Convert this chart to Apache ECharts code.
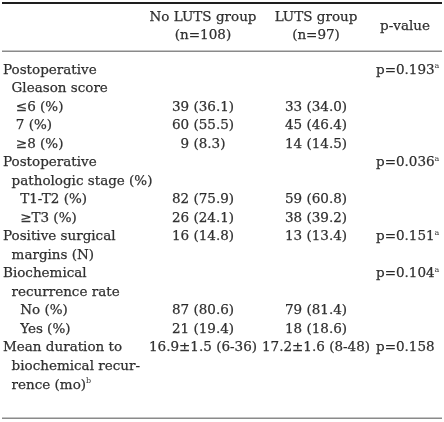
<!DOCTYPE html>
<html>
<head>
<meta charset="utf-8">
<script src="https://cdn.jsdelivr.net/npm/echarts@6/dist/echarts.min.js"></script>
<style>html,body{margin:0;padding:0;background:#fff}#c{width:444px;height:422px}</style>
</head>
<body>
<div id="c"></div>
<script>
// ---- data ----
var headerCols = ['No LUTS group', 'LUTS group'];
var headerNs = ['(n=108)', '(n=97)'];
var headerP = 'p-value';
var rowLabels = [
  'Postoperative',
  '\u00a0\u00a0Gleason score',
  '\u00a0\u00a0\u00a0\u22646 (%)',
  '\u00a0\u00a0\u00a07 (%)',
  '\u00a0\u00a0\u00a0\u22658 (%)',
  'Postoperative',
  '\u00a0\u00a0pathologic stage (%)',
  '\u00a0\u00a0\u00a0\u00a0T1-T2 (%)',
  '\u00a0\u00a0\u00a0\u00a0\u2265T3 (%)',
  'Positive surgical',
  '\u00a0\u00a0margins (N)',
  'Biochemical',
  '\u00a0\u00a0recurrence rate',
  '\u00a0\u00a0\u00a0\u00a0No (%)',
  '\u00a0\u00a0\u00a0\u00a0Yes (%)',
  'Mean duration to',
  '\u00a0\u00a0biochemical recur-',
  '\u00a0\u00a0rence (mo)'
];
var rowLabelSup = {17: 'b'};
var noLutsVals = ['', '', '39 (36.1)', '60 (55.5)', '9 (8.3)', '', '', '82 (75.9)', '26 (24.1)', '16 (14.8)', '', '', '', '87 (80.6)', '21 (19.4)', '16.9\u00b11.5 (6-36)', '', ''];
var lutsVals = ['', '', '33 (34.0)', '45 (46.4)', '14 (14.5)', '', '', '59 (60.8)', '38 (39.2)', '13 (13.4)', '', '', '', '79 (81.4)', '18 (18.6)', '17.2\u00b11.6 (8-48)', '', ''];
var pVals = ['p=0.193', '', '', '', '', 'p=0.036', '', '', '', 'p=0.151', '', 'p=0.104', '', '', '', 'p=0.158', '', ''];
var pSup = ['a', '', '', '', '', 'a', '', '', '', 'a', '', 'a', '', '', '', '', '', ''];

// ---- layout ----
var W = 444, H = 422;
var FONT = 'DejaVu Serif';
var FS = 13.5;
var COLOR = '#000';
var colLabelX = 3, col1X = 203, col2X = 316, pX = 376, pHeadX = 405;
var rowH = 18.53, firstRowY = 70;
var nRows = rowLabels.length;
var rowIdx = rowLabels.map(function (_, i) { return String(i); });

var rich = {
  n: {fontFamily: FONT, fontSize: FS, color: COLOR, lineHeight: 16, textBorderColor: COLOR, textBorderWidth: 0.25},
  s: {fontFamily: FONT, fontSize: 8, color: COLOR, lineHeight: 9, verticalAlign: 'top'}
};
function fmtCell(text, sup) {
  var s = '{n|' + text + '}';
  if (sup) s += '{s|' + sup + '}';
  return s;
}

function bodySeries(x, texts, sups, pos) {
  var data = [];
  texts.forEach(function (t, i) {
    if (t) data.push({value: [x, String(i)], text: t, sup: sups ? sups[i] : ''});
  });
  return {
    type: 'scatter', xAxisIndex: 1, yAxisIndex: 1, symbolSize: 0, silent: true,
    data: data,
    label: {
      show: true, position: pos, distance: 0, color: COLOR,
      formatter: function (p) { return fmtCell(p.data.text, p.data.sup); },
      rich: rich
    }
  };
}

var labelSups = rowLabels.map(function (_, i) { return rowLabelSup[i] || ''; });

var chart = echarts.init(document.getElementById('c'), null, {renderer: 'canvas'});
chart.setOption({
  backgroundColor: '#fff',
  animation: false,
  grid: [
    {left: 0, right: 0, top: 8, height: 36},
    {left: 0, right: 0, top: firstRowY - rowH / 2, height: rowH * nRows}
  ],
  xAxis: [
    {gridIndex: 0, type: 'value', min: 0, max: W, show: false},
    {gridIndex: 1, type: 'value', min: 0, max: W, show: false}
  ],
  yAxis: [
    {gridIndex: 0, type: 'value', min: 0, max: 2, inverse: true, show: false},
    {gridIndex: 1, type: 'category', data: rowIdx, inverse: true, show: false}
  ],
  series: [
    {
      type: 'scatter', xAxisIndex: 0, yAxisIndex: 0, symbolSize: 0, silent: true,
      data: [
        {value: [col1X, 0.5], text: headerCols[0]},
        {value: [col1X, 1.5], text: headerNs[0]},
        {value: [col2X, 0.5], text: headerCols[1]},
        {value: [col2X, 1.5], text: headerNs[1]},
        {value: [pHeadX, 1.0], text: headerP}
      ],
      label: {
        show: true, position: 'inside', color: COLOR,
        formatter: function (p) { return fmtCell(p.data.text, ''); },
        rich: rich
      }
    },
    bodySeries(colLabelX, rowLabels, labelSups, 'right'),
    bodySeries(col1X, noLutsVals, null, 'inside'),
    bodySeries(col2X, lutsVals, null, 'inside'),
    bodySeries(pX, pVals, pSup, 'right')
  ],
  graphic: [
    {type: 'rect', shape: {x: 2, y: 2, width: 440, height: 2}, style: {fill: '#1e1e1e'}, silent: true},
    {type: 'rect', shape: {x: 2, y: 50.5, width: 440, height: 1.5}, style: {fill: '#8a8a8a'}, silent: true},
    {type: 'rect', shape: {x: 2, y: 417.5, width: 440, height: 1.5}, style: {fill: '#8a8a8a'}, silent: true}
  ]
});
</script>
</body>
</html>
